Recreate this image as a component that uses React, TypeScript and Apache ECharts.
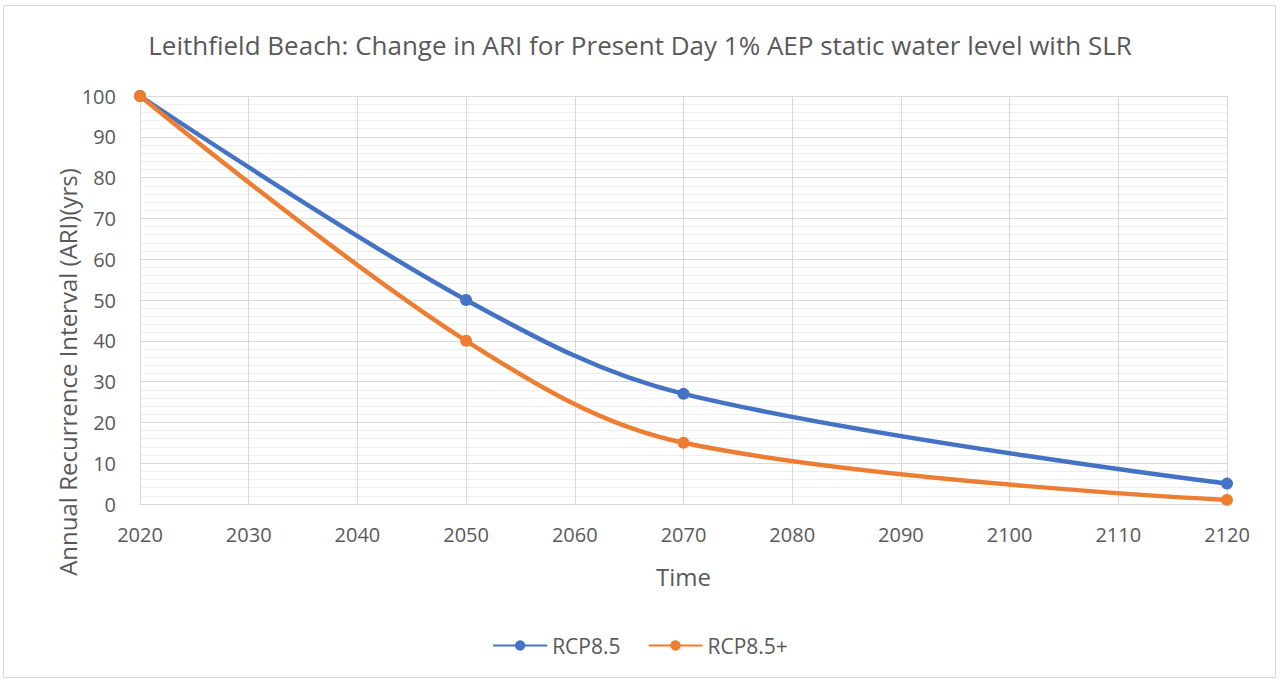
import React, { useEffect, useRef } from "react";
import * as echarts from "echarts";

const years = [2020, 2050, 2070, 2120];
const rcp85 = [100, 50, 27, 5];
const rcp85plus = [100, 40, 15, 1];
const seriesNames = ["RCP8.5", "RCP8.5+"];
const colors = ["#4472c4", "#ed7d31"];
const titleText = "Leithfield Beach: Change in ARI for Present Day 1% AEP static water level with SLR";
const yAxisTitle = "Annual Recurrence Interval (ARI)(yrs)";
const xAxisTitle = "Time";

export default function App() {
  const ref = useRef<HTMLDivElement>(null);
  useEffect(() => {
    const chart = echarts.init(ref.current!, null, { renderer: "svg" });
    const font = "'Open Sans', Lato, sans-serif";
    chart.setOption({
      animation: false,
      backgroundColor: "#ffffff",
      textStyle: { fontFamily: font },
      title: {
        text: titleText,
        left: "center",
        top: 27,
        textStyle: { fontSize: 26, fontWeight: "normal", color: "#595959", fontFamily: font },
      },
      graphic: [
        {
          type: "rect",
          shape: { x: 3.5, y: 5.5, width: 1272, height: 672 },
          style: { fill: "none", stroke: "#d9d9d9", lineWidth: 1 },
          silent: true,
        },
        {
          type: "text",
          x: 67,
          y: 372,
          rotation: Math.PI / 2,
          style: {
            text: yAxisTitle,
            fontSize: 24,
            fontFamily: font,
            fill: "#595959",
            align: "center",
            verticalAlign: "middle",
          },
          silent: true,
        },
      ],
      legend: {
        bottom: 21,
        left: "center",
        itemWidth: 54,
        itemHeight: 13,
        itemGap: 27,
        textStyle: { fontSize: 21, color: "#595959", fontFamily: font },
        data: seriesNames,
      },
      grid: { left: 140, right: 53, top: 96, bottom: 178, containLabel: false },
      xAxis: {
        type: "value",
        min: 2020,
        max: 2120,
        interval: 10,
        name: xAxisTitle,
        nameLocation: "middle",
        nameGap: 60,
        nameTextStyle: { fontSize: 24, color: "#595959", fontFamily: font },
        axisLine: { show: true, lineStyle: { color: "#d9d9d9", width: 1 } },
        axisTick: { show: false },
        axisLabel: {
          fontSize: 20,
          color: "#595959",
          margin: 20,
          fontFamily: font,
          formatter: (v: number) => String(v),
        },
        splitLine: { show: true, lineStyle: { color: "#d9d9d9", width: 1 } },
      },
      yAxis: {
        type: "value",
        min: 0,
        max: 100,
        interval: 10,
        axisLine: { show: false },
        axisTick: { show: false },
        axisLabel: { fontSize: 20, color: "#595959", margin: 24, fontFamily: font },
        splitLine: { show: true, lineStyle: { color: "#d9d9d9", width: 1 } },
        minorTick: { show: false, splitNumber: 5 },
        minorSplitLine: { show: true, lineStyle: { color: "#eeeeee", width: 1 } },
      },
      series: [
        {
          name: seriesNames[0],
          type: "line",
          smooth: 0.35,
          data: years.map((y, i) => [y, rcp85[i]]),
          symbol: "circle",
          symbolSize: 12,
          lineStyle: { width: 4.5, color: colors[0] },
          itemStyle: { color: colors[0] },
        },
        {
          name: seriesNames[1],
          type: "line",
          smooth: 0.35,
          data: years.map((y, i) => [y, rcp85plus[i]]),
          symbol: "circle",
          symbolSize: 12,
          lineStyle: { width: 4.5, color: colors[1] },
          itemStyle: { color: colors[1] },
        },
      ],
    });
    return () => chart.dispose();
  }, []);
  return (
    <div
      ref={ref}
      style={{ position: "absolute", left: 0, top: 0, width: 1280, height: 682 }}
    />
  );
}
